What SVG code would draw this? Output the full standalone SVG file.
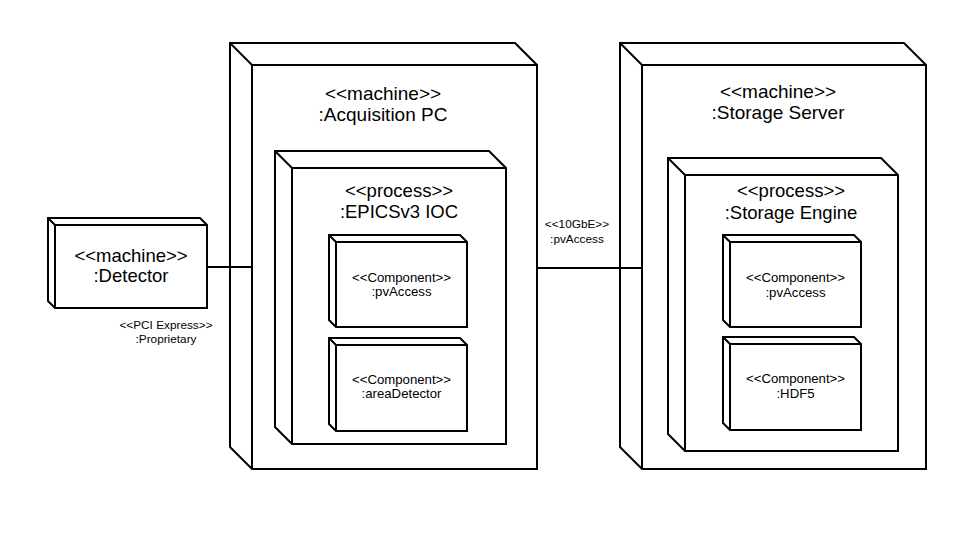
<svg xmlns="http://www.w3.org/2000/svg" width="953" height="536" viewBox="0 0 953 536">
<style>
.box{fill:#fff;stroke:#000;stroke-width:2;stroke-linejoin:miter}
.edge{fill:none;stroke:#000;stroke-width:2}
.conn{fill:none;stroke:#000;stroke-width:2}
text{font-family:"Liberation Sans",Arial,sans-serif;fill:#000;text-anchor:middle}
.t19{font-size:19px}
.t18{font-size:18.5px}
.t13{font-size:13.2px}
.t12{font-size:11.8px}
</style>
<rect x="0" y="0" width="953" height="536" fill="#fff"/>
<g id="acquisition-pc">
<path class="box" d="M230,43 L515,43 L537,65 L537,469 L252,469 L230,447 Z"/>
<path class="edge" d="M230,43 L252,65 H537 M252,65 V469"/>
<text class="t19" x="383" y="100">&lt;&lt;machine&gt;&gt;</text>
<text class="t19" x="383" y="121">:Acquisition PC</text>
</g>
<g id="epics-ioc">
<path class="box" d="M275,151 L489,151 L506,168 L506,444 L292,444 L275,427 Z"/>
<path class="edge" d="M275,151 L292,168 H506 M292,168 V444"/>
<text class="t18" x="399" y="197">&lt;&lt;process&gt;&gt;</text>
<text class="t18" x="399" y="218">:EPICSv3 IOC</text>
</g>
<g id="ioc-pvaccess">
<path class="box" d="M329,235 L460,235 L467,242 V327 H336 L329,320 Z"/>
<path class="edge" d="M329,235 L336,242 H467 M336,242 V327"/>
<text class="t13" x="401.5" y="282">&lt;&lt;Component&gt;&gt;</text>
<text class="t13" x="401.5" y="296">:pvAccess</text>
</g>
<g id="ioc-areadetector">
<path class="box" d="M329,338 L460,338 L467,345 V431 H336 L329,424 Z"/>
<path class="edge" d="M329,338 L336,345 H467 M336,345 V431"/>
<text class="t13" x="401.5" y="384">&lt;&lt;Component&gt;&gt;</text>
<text class="t13" x="401.5" y="398">:areaDetector</text>
</g>
<g id="storage-server">
<path class="box" d="M620,43 L904,43 L926,65 L926,469 L642,469 L620,447 Z"/>
<path class="edge" d="M620,43 L642,65 H926 M642,65 V469"/>
<text class="t19" x="778" y="98">&lt;&lt;machine&gt;&gt;</text>
<text class="t19" x="778" y="119">:Storage Server</text>
</g>
<g id="storage-engine">
<path class="box" d="M668,158 L881,158 L898,175 V451 H685 L668,434 Z"/>
<path class="edge" d="M668,158 L685,175 H898 M685,175 V451"/>
<text class="t18" x="791" y="197">&lt;&lt;process&gt;&gt;</text>
<text class="t18" x="791" y="219">:Storage Engine</text>
</g>
<g id="storage-pvaccess">
<path class="box" d="M723,235 L854,235 L861,242 V327 H730 L723,320 Z"/>
<path class="edge" d="M723,235 L730,242 H861 M730,242 V327"/>
<text class="t13" x="795.5" y="282">&lt;&lt;Component&gt;&gt;</text>
<text class="t13" x="795.5" y="297">:pvAccess</text>
</g>
<g id="storage-hdf5">
<path class="box" d="M723,337 L854,337 L861,344 V430 H730 L723,423 Z"/>
<path class="edge" d="M723,337 L730,344 H861 M730,344 V430"/>
<text class="t13" x="795.5" y="383">&lt;&lt;Component&gt;&gt;</text>
<text class="t13" x="795.5" y="398">:HDF5</text>
</g>
<g id="detector">
<path class="box" d="M48,218 L200,218 L207,225 V308 H55 L48,301 Z"/>
<path class="edge" d="M48,218 L55,225 H207 M55,225 V308"/>
<text class="t18" x="131" y="262">&lt;&lt;machine&gt;&gt;</text>
<text class="t18" x="131" y="282">:Detector</text>
</g>
<g id="connectors">
<path class="conn" d="M207,267 H252"/>
<path class="conn" d="M537,268 H642"/>
<text class="t12" x="166" y="329">&lt;&lt;PCI Express&gt;&gt;</text>
<text class="t12" x="166" y="343">:Proprietary</text>
<text class="t12" x="577" y="228">&lt;&lt;10GbE&gt;&gt;</text>
<text class="t12" x="577" y="243">:pvAccess</text>
</g>
</svg>
